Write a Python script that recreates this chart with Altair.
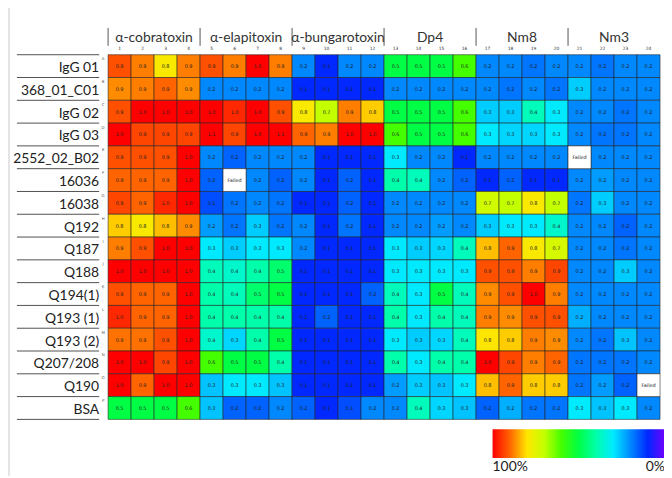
import altair as alt
import pandas as pd

rows = ["IgG 01", "368_01_C01", "IgG 02", "IgG 03", "2552_02_B02", "16036", "16038",
        "Q192", "Q187", "Q188", "Q194(1)", "Q193 (1)", "Q193 (2)", "Q207/208", "Q190", "BSA"]
letters = list("ABCDEFGHIJKLMNOP")
groups = ["α-cobratoxin", "α-elapitoxin", "α-bungarotoxin", "Dp4", "Nm8", "Nm3"]
columns = list(range(1, 25))

F = None  # "Failed" well

# values estimated to two decimals from the cell colours; cells show them rounded to one decimal
igg01 = [0.92, 0.88, 0.79, 0.88, 0.92, 0.88, 1.0, 0.88, 0.2, 0.1, 0.2, 0.2, 0.5, 0.5, 0.5, 0.6, 0.2, 0.2, 0.18, 0.2, 0.2, 0.18, 0.2, 0.2]
c368 = [0.87, 0.88, 0.9, 0.87, 0.2, 0.2, 0.2, 0.2, 0.1, 0.1, 0.1, 0.1, 0.2, 0.2, 0.2, 0.2, 0.2, 0.18, 0.2, 0.18, 0.27, 0.2, 0.2, 0.2]
igg02 = [0.92, 1.0, 1.0, 1.0, 1.0, 0.96, 1.0, 0.92, 0.79, 0.7, 0.88, 0.82, 0.5, 0.5, 0.5, 0.6, 0.27, 0.27, 0.38, 0.3, 0.2, 0.2, 0.18, 0.2]
igg03 = [1.0, 0.93, 0.93, 0.93, 1.1, 0.93, 1.0, 1.1, 0.9, 0.88, 1.0, 1.0, 0.6, 0.5, 0.5, 0.6, 0.3, 0.28, 0.28, 0.3, 0.2, 0.18, 0.18, 0.2]
b2552 = [0.92, 0.92, 0.92, 1.0, 0.2, 0.16, 0.2, 0.2, 0.2, 0.1, 0.1, 0.1, 0.3, 0.2, 0.2, 0.1, 0.2, 0.2, 0.2, 0.2, F, 0.2, 0.2, 0.2]
r16036 = [0.9, 0.9, 0.9, 1.0, 0.16, F, 0.2, 0.16, 0.2, 0.1, 0.16, 0.1, 0.4, 0.38, 0.2, 0.16, 0.1, 0.16, 0.1, 0.1, 0.2, 0.22, 0.2, 0.2]
r16038 = [0.93, 0.9, 0.96, 1.0, 0.14, 0.18, 0.2, 0.18, 0.1, 0.1, 0.16, 0.1, 0.2, 0.2, 0.2, 0.2, 0.72, 0.7, 0.79, 0.7, 0.18, 0.27, 0.2, 0.2]
q192 = [0.82, 0.79, 0.83, 0.87, 0.22, 0.18, 0.27, 0.18, 0.2, 0.1, 0.18, 0.1, 0.2, 0.2, 0.22, 0.2, 0.27, 0.3, 0.3, 0.36, 0.2, 0.2, 0.16, 0.2]
q187 = [0.88, 0.92, 1.0, 1.0, 0.3, 0.27, 0.3, 0.3, 0.2, 0.1, 0.1, 0.1, 0.3, 0.27, 0.28, 0.38, 0.83, 0.9, 0.79, 0.73, 0.2, 0.2, 0.18, 0.2]
q188 = [1.0, 1.0, 1.0, 1.0, 0.38, 0.36, 0.4, 0.46, 0.1, 0.1, 0.1, 0.1, 0.3, 0.3, 0.3, 0.3, 0.92, 0.92, 0.88, 0.93, 0.2, 0.2, 0.27, 0.2]
q194 = [0.92, 0.9, 0.9, 1.0, 0.4, 0.38, 0.46, 0.5, 0.1, 0.1, 0.1, 0.16, 0.38, 0.3, 0.5, 0.38, 0.87, 0.92, 1.0, 0.88, 0.2, 0.2, 0.2, 0.2]
q193a = [0.96, 0.9, 0.9, 1.0, 0.4, 0.4, 0.4, 0.4, 0.1, 0.16, 0.1, 0.1, 0.4, 0.3, 0.4, 0.38, 0.88, 0.87, 0.92, 0.92, 0.24, 0.2, 0.2, 0.2]
q193b = [0.89, 0.89, 0.92, 1.0, 0.36, 0.28, 0.4, 0.5, 0.1, 0.1, 0.1, 0.1, 0.3, 0.27, 0.28, 0.38, 0.8, 0.82, 0.88, 0.87, 0.2, 0.18, 0.26, 0.2]
q207 = [1.0, 1.0, 0.93, 1.0, 0.6, 0.5, 0.5, 0.4, 0.1, 0.1, 0.1, 0.1, 0.4, 0.3, 0.4, 0.4, 1.0, 0.93, 0.88, 0.9, 0.18, 0.18, 0.18, 0.2]
q190 = [1.0, 0.9, 1.0, 1.0, 0.26, 0.3, 0.3, 0.26, 0.1, 0.1, 0.1, 0.1, 0.22, 0.27, 0.26, 0.3, 0.83, 0.9, 0.82, 0.82, 0.18, 0.22, 0.16, F]
bsa = [0.5, 0.5, 0.5, 0.6, 0.26, 0.16, 0.16, 0.2, 0.16, 0.1, 0.14, 0.2, 0.2, 0.38, 0.28, 0.26, 0.16, 0.24, 0.18, 0.18, 0.3, 0.26, 0.3, 0.2]

grid = [igg01, c368, igg02, igg03, b2552, r16036, r16038, q192, q187, q188,
        q194, q193a, q193b, q207, q190, bsa]

records = []
for r, vals in enumerate(grid, start=1):
    for c, v in zip(columns, vals):
        records.append({"row": r, "col": c, "v": v,
                        "label": "Failed" if v is None else f"{v:.1f}"})
cells = pd.DataFrame(records)
row_df = pd.DataFrame({"row": list(range(1, 17)), "name": rows, "letter": letters})
edge_df = pd.DataFrame({"edge": [0.5 + i for i in range(17)]})
col_df = pd.DataFrame({"col": columns})
grp_df = pd.DataFrame({"g": list(range(6)), "name": groups})

xs = alt.Scale(domain=[0.5, 24.5], nice=False, zero=False)
ys = alt.Scale(domain=[0.5, 16.5], nice=False, zero=False, reverse=True)

stops = [0, 0.1, 0.2, 0.3, 0.4, 0.5, 0.6, 0.7, 0.8, 0.9, 1.0]
stop_colors = ["#ff0000", "#ff6400", "#ffe600", "#c4ff00", "#44ff00", "#00ff44",
               "#00ffaa", "#00eaff", "#0088ff", "#0028ff", "#7000ff"]
cscale = alt.Scale(domain=stops, range=stop_colors, interpolate="rgb", clamp=True)

font = "Lato"

cell_base = alt.Chart(cells).transform_calculate(
    x0="datum.col - 0.5", x1="datum.col + 0.5",
    y0="datum.row - 0.5", y1="datum.row + 0.5")

rects = cell_base.transform_filter("isValid(datum.v)").transform_calculate(
    inv="1 - datum.v"
).mark_rect(stroke="#202020", strokeWidth=0.8, strokeOpacity=0.7).encode(
    x=alt.X("x0:Q", scale=xs, axis=None), x2="x1:Q",
    y=alt.Y("y0:Q", scale=ys, axis=None), y2="y1:Q",
    color=alt.Color("inv:Q", scale=cscale, legend=alt.Legend(
        title=None, orient="none", legendX=388, legendY=378, direction="horizontal",
        gradientLength=174, gradientThickness=29, values=[0, 1],
        labelExpr="datum.value == 0 ? '100%' : '0%'", labelFontSize=14,
        labelFont=font, labelColor="#222", gradientStrokeWidth=0, labelOffset=2)))

failed = cell_base.transform_filter("!isValid(datum.v)").mark_rect(
    fill="white", stroke="#202020", strokeWidth=0.8, strokeOpacity=0.7).encode(
    x=alt.X("x0:Q", scale=xs, axis=None), x2="x1:Q",
    y=alt.Y("y0:Q", scale=ys, axis=None), y2="y1:Q")

texts = alt.Chart(cells).mark_text(fontSize=5, font="DejaVu Sans", color="#222").encode(
    x=alt.X("col:Q", scale=xs, axis=None), y=alt.Y("row:Q", scale=ys, axis=None),
    text="label:N")

row_labels = alt.Chart(row_df).mark_text(align="right", baseline="middle", fontSize=14,
                                          font=font, color="#222", dy=2).encode(
    x=alt.value(-9), y=alt.Y("row:Q", scale=ys, axis=None), text="name:N")

row_letters = alt.Chart(row_df).mark_text(align="center", fontSize=4, font="DejaVu Sans",
                                           color="#555", dy=-7).encode(
    x=alt.value(-5), y=alt.Y("row:Q", scale=ys, axis=None), text="letter:N")

underlines = alt.Chart(edge_df).mark_rule(color="#505050", strokeWidth=1).encode(
    y=alt.Y("edge:Q", scale=ys, axis=None), x=alt.value(-92), x2=alt.value(-9))

col_nums = alt.Chart(col_df).mark_text(fontSize=4.5, font="DejaVu Sans", color="#333").encode(
    x=alt.X("col:Q", scale=xs, axis=None), y=alt.value(-6), text="col:N")

grp_labels = alt.Chart(grp_df).transform_calculate(c="4 * datum.g + 2.5").mark_text(
    fontSize=14, font=font, color="#333", baseline="middle").encode(
    x=alt.X("c:Q", scale=xs, axis=None), y=alt.value(-17), text="name:N")

grp_seps = alt.Chart(grp_df).transform_calculate(s="4 * datum.g + 0.5").mark_rule(
    color="#555", strokeWidth=1).encode(
    x=alt.X("s:Q", scale=xs, axis=None), y=alt.value(-27), y2=alt.value(-9))

frame = alt.Chart(grp_df.head(1)).mark_rule(color="#c8c8c8", strokeWidth=1).encode(
    x=alt.value(-100), y=alt.value(-53), y2=alt.value(425))

chart = alt.layer(
    frame, rects, failed, texts, underlines, row_labels, row_letters,
    col_nums, grp_seps, grp_labels
).properties(
    width=557, height=368,
    autosize=alt.AutoSizeParams(type="none"),
    padding={"left": 101, "top": 45, "right": 4, "bottom": 57},
    background="white"
).configure_view(stroke=None)

chart.save("out.html", embed_options={"renderer": "svg", "actions": False})
